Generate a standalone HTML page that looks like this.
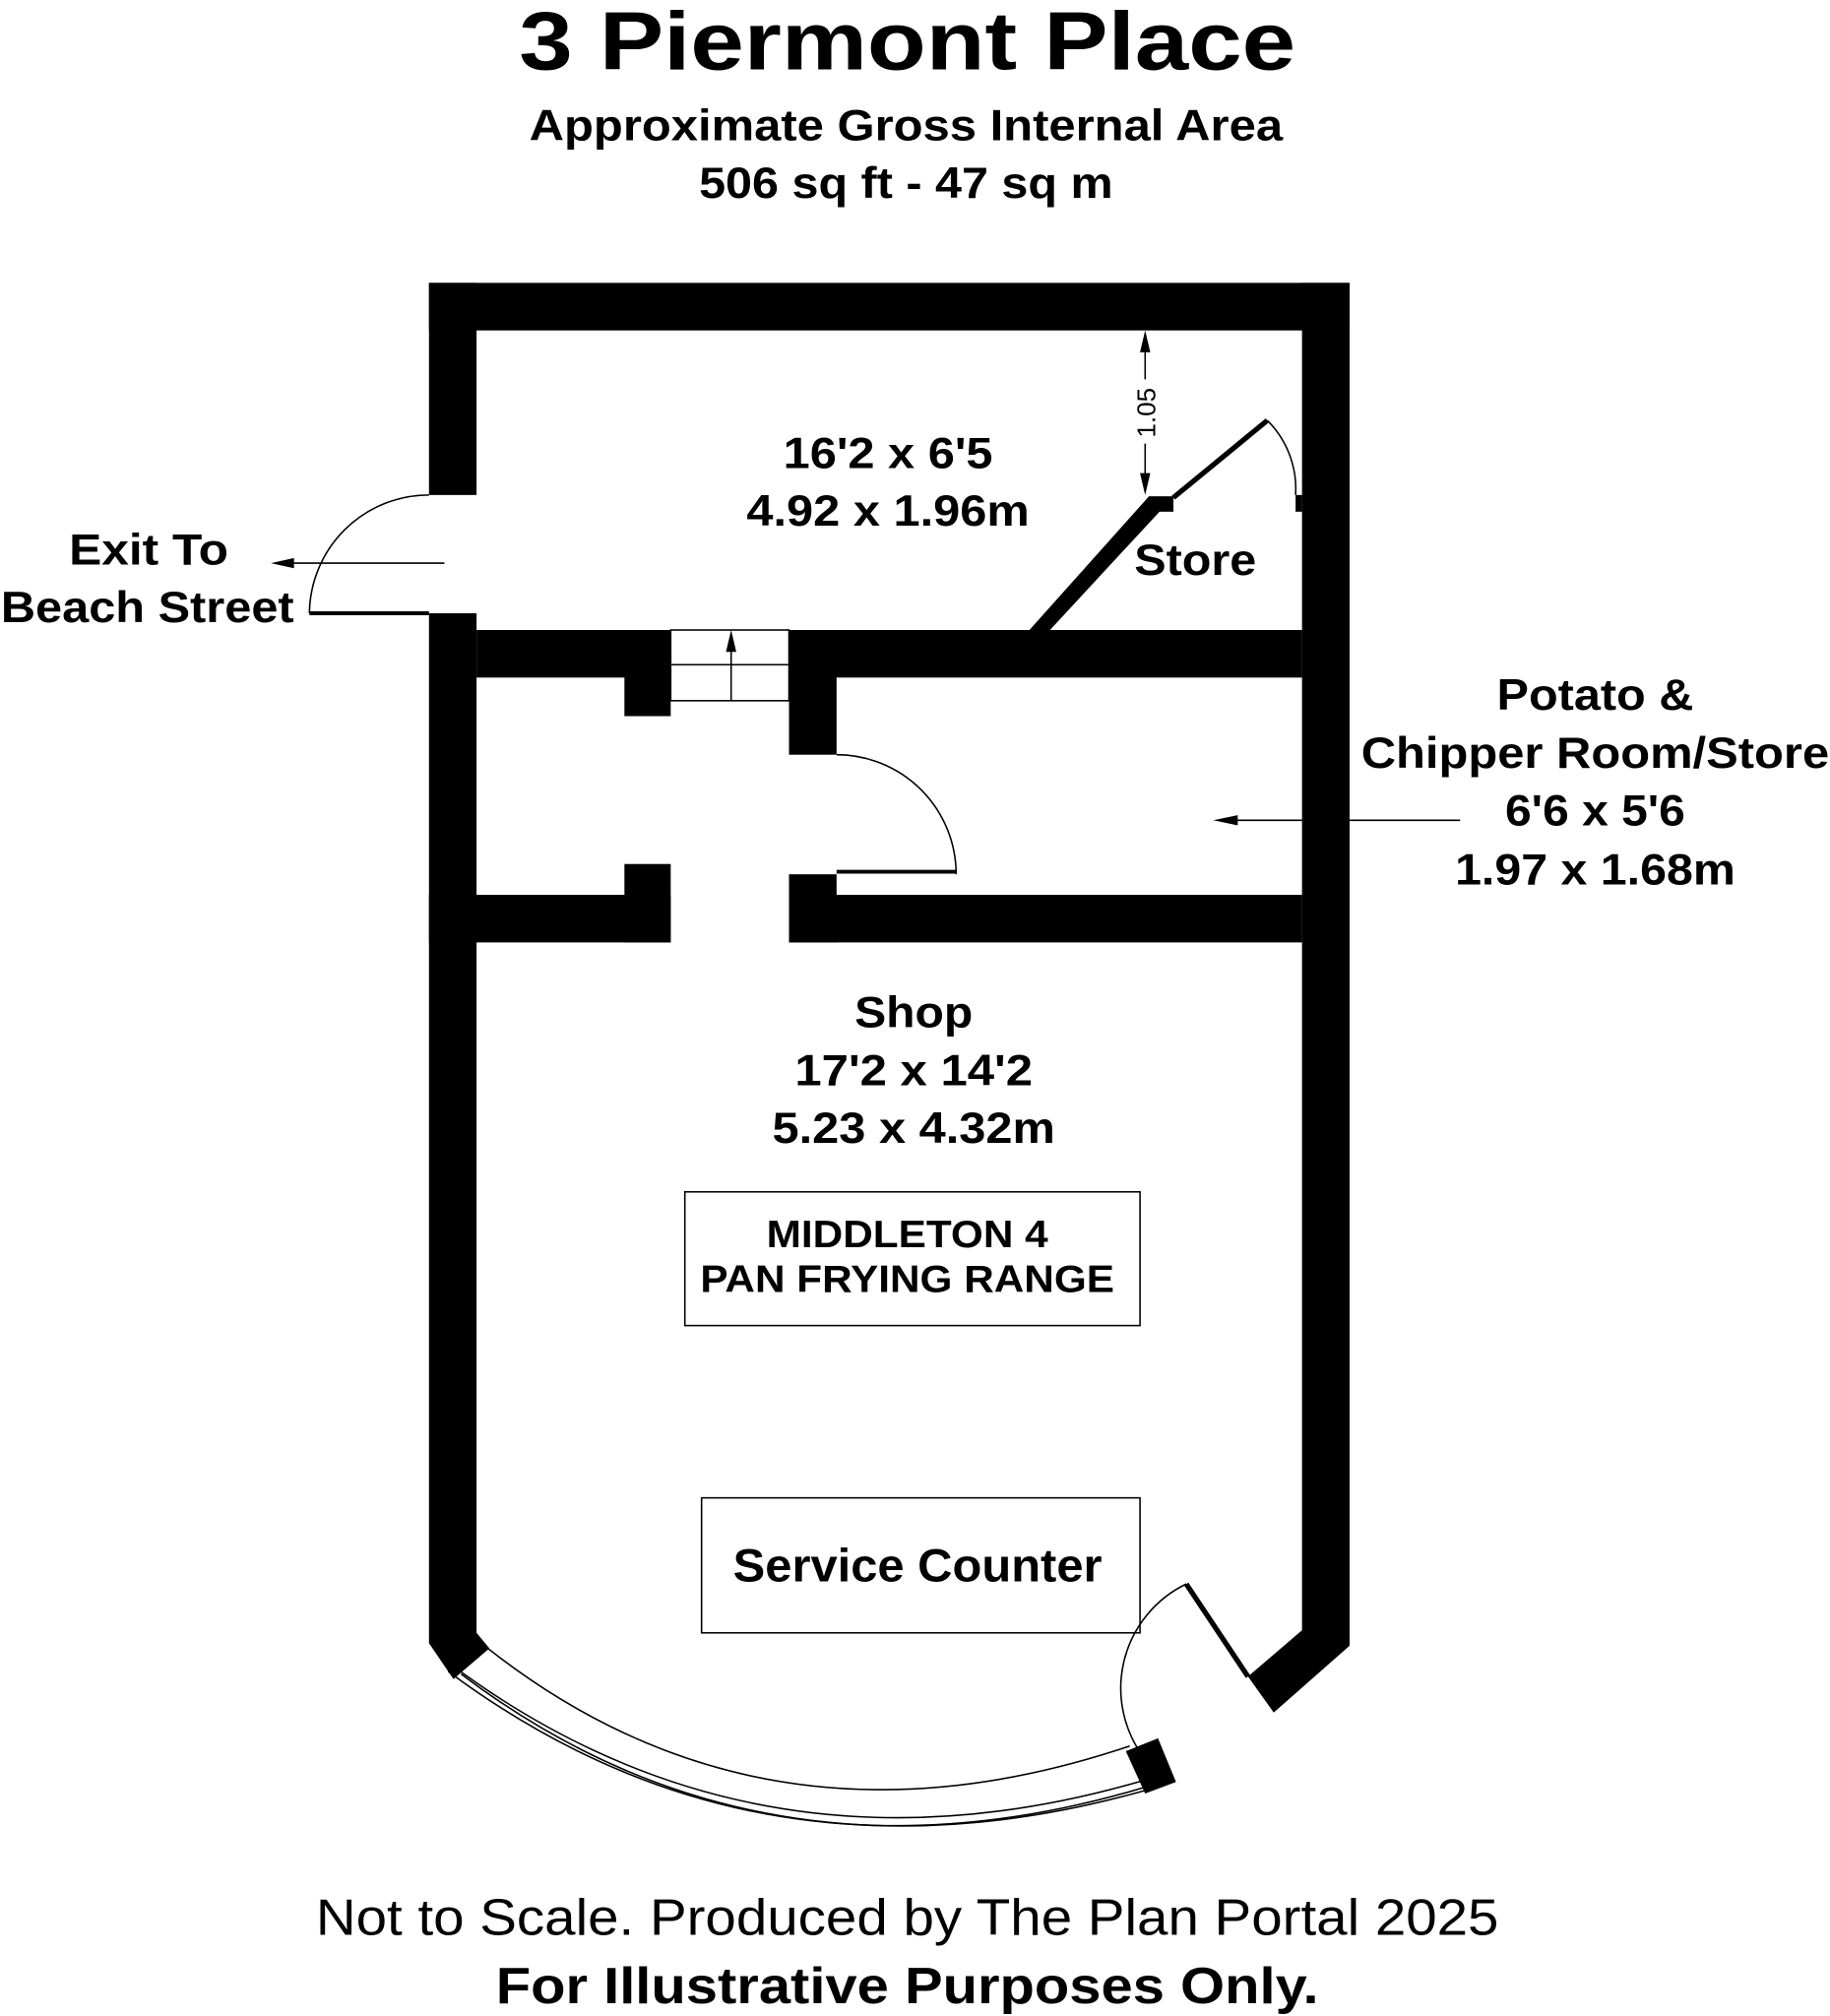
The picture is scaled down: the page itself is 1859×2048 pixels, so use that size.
<!DOCTYPE html>
<html><head><meta charset="utf-8"><style>html,body{margin:0;padding:0;background:#fff}svg{display:block}</style></head>
<body>
<svg width="1859" height="2048" viewBox="0 0 1422 1568" xmlns="http://www.w3.org/2000/svg" font-family="Liberation Sans, sans-serif" text-anchor="middle">
<rect width="1422" height="1568" fill="#fff"/>
<text x="705" y="54" font-size="64" font-weight="bold" textLength="604" lengthAdjust="spacingAndGlyphs">3 Piermont Place</text>
<text x="704" y="109" font-size="34" font-weight="bold" textLength="586" lengthAdjust="spacingAndGlyphs">Approximate Gross Internal Area</text>
<text x="704" y="154" font-size="34" font-weight="bold" textLength="322" lengthAdjust="spacingAndGlyphs">506 sq ft - 47 sq m</text>
<g fill="#000">
<rect x="333" y="220" width="716" height="37"/>
<rect x="333" y="220" width="37" height="165"/>
<polygon points="333,477 370,477 370,1270 380,1282 352,1306 333,1278"/>
<polygon points="1012,220 1049,220 1049,1280 990,1332 970,1304 1012,1268"/>
<rect x="370" y="490" width="151" height="37"/>
<rect x="485" y="490" width="36" height="67"/>
<rect x="613" y="490" width="399" height="37"/>
<rect x="613" y="490" width="37" height="97"/>
<rect x="333" y="696" width="188" height="37"/>
<rect x="485" y="672" width="36" height="61"/>
<rect x="613" y="696" width="399" height="37"/>
<rect x="613" y="680" width="37" height="53"/>
<polygon points="800,490 816,490 903,396 893,386"/>
<rect x="893" y="386" width="19" height="12"/>
<rect x="1007" y="385" width="5" height="13"/>
<polygon points="875,1362 900,1352 914,1386 890,1395"/>
</g>
<g fill="none" stroke="#000" stroke-width="1.2">
<path d="M370,1275 Q590,1455 878,1358"/>
<path d="M348,1300 Q590,1480 890,1390"/>
<path d="M352,1296 Q590,1472 888,1385"/>
<path d="M358,1302 Q590,1478 892,1392" />
<path d="M240,477 A93,93 0 0 1 333,385"/>
<path d="M650,587 A93,93 0 0 1 743,680"/>
<path d="M985,327 A75,75 0 0 1 1007,385"/>
<path d="M922,1232 A90,90 0 0 0 893,1372"/>
<line x1="240" y1="477" x2="333" y2="477" stroke-width="3"/>
<line x1="650" y1="678" x2="743" y2="678" stroke-width="3"/>
<line x1="912" y1="387" x2="985" y2="327" stroke-width="4"/>
<line x1="922" y1="1232" x2="970" y2="1304" stroke-width="4"/>
<rect x="521" y="490" width="92" height="55"/>
<line x1="521" y1="517" x2="613" y2="517"/>
<line x1="568" y1="545" x2="568" y2="498"/>
<line x1="890" y1="267" x2="890" y2="295"/>
<line x1="890" y1="345" x2="890" y2="375"/>
<line x1="345" y1="438" x2="222" y2="438"/>
<line x1="1135" y1="638" x2="958" y2="638"/>
<rect x="532" y="927" width="354" height="104"/>
<rect x="545" y="1165" width="341" height="105"/>
</g>
<g fill="#000">
<polygon points="568,490 564,507 572,507"/>
<polygon points="890,257 886,274 894,274"/>
<polygon points="890,385 886,368 894,368"/>
<polygon points="210,438 228,434 228,442"/>
<polygon points="943,638 962,634 962,642"/>
</g>
<text x="0" y="0" font-size="20" transform="translate(898,321) rotate(-90)">1.05</text>
<g font-weight="bold" font-size="34" lengthAdjust="spacingAndGlyphs">
<text x="115" y="439" textLength="124" lengthAdjust="spacingAndGlyphs">Exit To</text>
<text x="114" y="484" textLength="228" lengthAdjust="spacingAndGlyphs">Beach Street</text>
<text x="690" y="364" textLength="163" lengthAdjust="spacingAndGlyphs">16'2 x 6'5</text>
<text x="690" y="409" textLength="220" lengthAdjust="spacingAndGlyphs">4.92 x 1.96m</text>
<text x="929" y="447" textLength="95" lengthAdjust="spacingAndGlyphs">Store</text>
<text x="1240" y="552" textLength="153" lengthAdjust="spacingAndGlyphs">Potato &amp;</text>
<text x="1240" y="597" textLength="364" lengthAdjust="spacingAndGlyphs">Chipper Room/Store</text>
<text x="1240" y="642" textLength="140" lengthAdjust="spacingAndGlyphs">6'6 x 5'6</text>
<text x="1240" y="688" textLength="218" lengthAdjust="spacingAndGlyphs">1.97 x 1.68m</text>
<text x="710" y="799" textLength="92" lengthAdjust="spacingAndGlyphs">Shop</text>
<text x="710" y="844" textLength="185" lengthAdjust="spacingAndGlyphs">17'2 x 14'2</text>
<text x="710" y="889" textLength="220" lengthAdjust="spacingAndGlyphs">5.23 x 4.32m</text>
<text x="713" y="1230" font-size="36" textLength="287" lengthAdjust="spacingAndGlyphs">Service Counter</text>
<text x="705" y="970" font-size="30" textLength="219" lengthAdjust="spacingAndGlyphs">MIDDLETON 4</text>
<text x="705" y="1005" font-size="30" textLength="322" lengthAdjust="spacingAndGlyphs">PAN FRYING RANGE</text>
</g>
<text x="705" y="1505" font-size="40" textLength="920" lengthAdjust="spacingAndGlyphs">Not to Scale. Produced by The Plan Portal 2025</text>
<text x="705" y="1558" font-size="40" font-weight="bold" textLength="640" lengthAdjust="spacingAndGlyphs">For Illustrative Purposes Only.</text>
</svg>
</body></html>
